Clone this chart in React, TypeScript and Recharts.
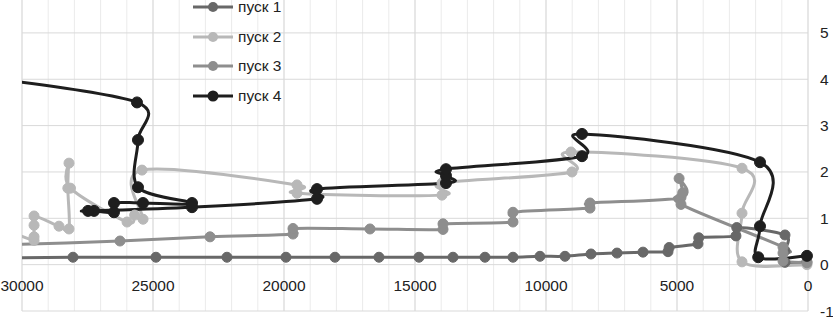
import { CartesianGrid, ComposedChart, Legend, Line, XAxis, YAxis } from "recharts";

// distance (x) / value (y) for each run
const run1X = [31000, 28054, 24887, 22177, 19925, 18054, 16375, 14848, 13550, 12329, 11260, 10230, 9275, 8283, 7290, 6298, 5344, 5300, 4199, 4170, 2750, 2720, 878, 878, 878, 40];
const run1Y = [0.14, 0.16, 0.16, 0.16, 0.16, 0.16, 0.16, 0.16, 0.16, 0.16, 0.16, 0.18, 0.18, 0.23, 0.25, 0.27, 0.28, 0.37, 0.45, 0.58, 0.62, 0.8, 0.64, 0.3, 0.05, 0.06];

const run2X = [30500, 29540, 29540, 29540, 29540, 28588, 28206, 28250, 28206, 28150, 25990, 25700, 25380, 25420, 19504, 19504, 13970, 13970, 9008, 9046, 2519, 2519, 2519, 40];
const run2Y = [0.72, 0.52, 0.6, 0.85, 1.05, 0.83, 0.77, 1.65, 2.19, 1.65, 0.92, 1.07, 0.98, 2.04, 1.72, 1.54, 1.5, 1.76, 2.0, 2.43, 2.08, 1.11, 0.06, 0.0];

const run3X = [31000, 26260, 22824, 19657, 19657, 16718, 13931, 13931, 11260, 11260, 8321, 8321, 4847, 4920, 4780, 4847, 954, 954, 954, 40];
const run3Y = [0.42, 0.51, 0.6, 0.66, 0.78, 0.77, 0.76, 0.88, 0.92, 1.13, 1.22, 1.33, 1.45, 1.86, 1.55, 1.3, 0.38, 0.25, 0.08, 0.04];

const run4X = [31500, 25611, 25573, 25573, 23511, 25382, 26489, 26489, 27250, 27480, 23511, 18740, 18740, 13817, 13817, 13817, 8626, 8626, 1832, 1832, 1900, 40];
const run4Y = [4.05, 3.5, 2.69, 1.67, 1.33, 1.33, 1.33, 1.13, 1.16, 1.16, 1.24, 1.42, 1.63, 1.76, 1.92, 2.06, 2.34, 2.82, 2.21, 0.83, 0.16, 0.19];

const X_TICKS = [30000, 25000, 20000, 15000, 10000, 5000, 0];
const X_MINOR = Array.from({ length: 31 }, (_, i) => i * 1000);
const Y_TICKS = [-1, 0, 1, 2, 3, 4, 5];

const FONT = "'Liberation Sans', Arial, sans-serif";
const TEXT = "#222222";

const toPoints = (xs: number[], ys: number[]) => xs.map((x, i) => ({ x, y: ys[i] }));

const SERIES = [
  { name: "пуск 1", color: "#686868", r: 5, data: toPoints(run1X, run1Y) },
  { name: "пуск 2", color: "#b8b8b8", r: 5, data: toPoints(run2X, run2Y) },
  { name: "пуск 3", color: "#8e8e8e", r: 5, data: toPoints(run3X, run3Y) },
  { name: "пуск 4", color: "#1e1e1e", r: 5.5, data: toPoints(run4X, run4Y) },
];

// Catmull-Rom style smoothing, close to the spreadsheet "smoothed line" look.
// Works on points in order, so it can go back and forth along x.
function smoothCurve(context: any) {
  let pts: [number, number][] = [];
  return {
    areaStart() {},
    areaEnd() {},
    lineStart() {
      pts = [];
    },
    point(x: number, y: number) {
      pts.push([+x, +y]);
    },
    lineEnd() {
      if (!pts.length) return;
      context.moveTo(pts[0][0], pts[0][1]);
      const k = 1 / 6;
      for (let i = 0; i < pts.length - 1; i++) {
        const p0 = pts[Math.max(i - 1, 0)];
        const p1 = pts[i];
        const p2 = pts[i + 1];
        const p3 = pts[Math.min(i + 2, pts.length - 1)];
        context.bezierCurveTo(
          p1[0] + (p2[0] - p0[0]) * k,
          p1[1] + (p2[1] - p0[1]) * k,
          p2[0] - (p3[0] - p1[0]) * k,
          p2[1] - (p3[1] - p1[1]) * k,
          p2[0],
          p2[1]
        );
      }
    },
  };
}

function XTick({ x, y, payload }: any) {
  return (
    <text x={x} y={y - 28} textAnchor="middle" fontSize={15.5} fontFamily={FONT} fill={TEXT}>
      {payload.value}
    </text>
  );
}

function RunLegend() {
  return (
    <div style={{ fontFamily: FONT, fontSize: 15.5, color: TEXT }}>
      {SERIES.map((s) => (
        <div key={s.name} style={{ display: "flex", alignItems: "center", height: 29.7 }}>
          <svg width={40} height={12}>
            <line x1={0} x2={40} y1={6} y2={6} stroke={s.color} strokeWidth={3} />
            <circle cx={20} cy={6} r={s.r} fill={s.color} />
          </svg>
          <span style={{ marginLeft: 5 }}>{s.name}</span>
        </div>
      ))}
    </div>
  );
}

export default function App() {
  return (
    <div style={{ position: "absolute", left: 0, top: 0, background: "#fff" }}>
      <ComposedChart width={833} height={317} margin={{ top: 0, right: 0, bottom: 0, left: 22 }}>
        <CartesianGrid stroke="#ebebeb" horizontal={false} verticalValues={X_MINOR} />
        <CartesianGrid stroke="#d9d9d9" verticalValues={X_TICKS} horizontalValues={Y_TICKS} />
        <XAxis
          dataKey="x"
          type="number"
          domain={[0, 30000]}
          reversed
          allowDataOverflow
          ticks={X_TICKS}
          interval={0}
          height={6}
          axisLine={false}
          tickLine={false}
          tick={<XTick />}
        />
        <YAxis
          orientation="right"
          type="number"
          domain={[-1, 5.71]}
          ticks={Y_TICKS}
          interval={0}
          width={25}
          axisLine={false}
          tickLine={false}
          tickMargin={6}
          tick={{ fontSize: 15.5, fontFamily: FONT, fill: TEXT, textAnchor: "start" }}
        />
        <Legend
          layout="vertical"
          align="center"
          verticalAlign="middle"
          content={<RunLegend />}
          wrapperStyle={{ left: 193, top: -8, width: "auto" }}
        />
        {SERIES.map((s) => (
          <Line
            key={s.name}
            data={s.data}
            dataKey="y"
            name={s.name}
            type={smoothCurve as any}
            stroke={s.color}
            strokeWidth={3}
            dot={{ r: s.r, fill: s.color, stroke: s.color, strokeWidth: 1, clipDot: false } as any}
            activeDot={false}
            isAnimationActive={false}
          />
        ))}
      </ComposedChart>
    </div>
  );
}
